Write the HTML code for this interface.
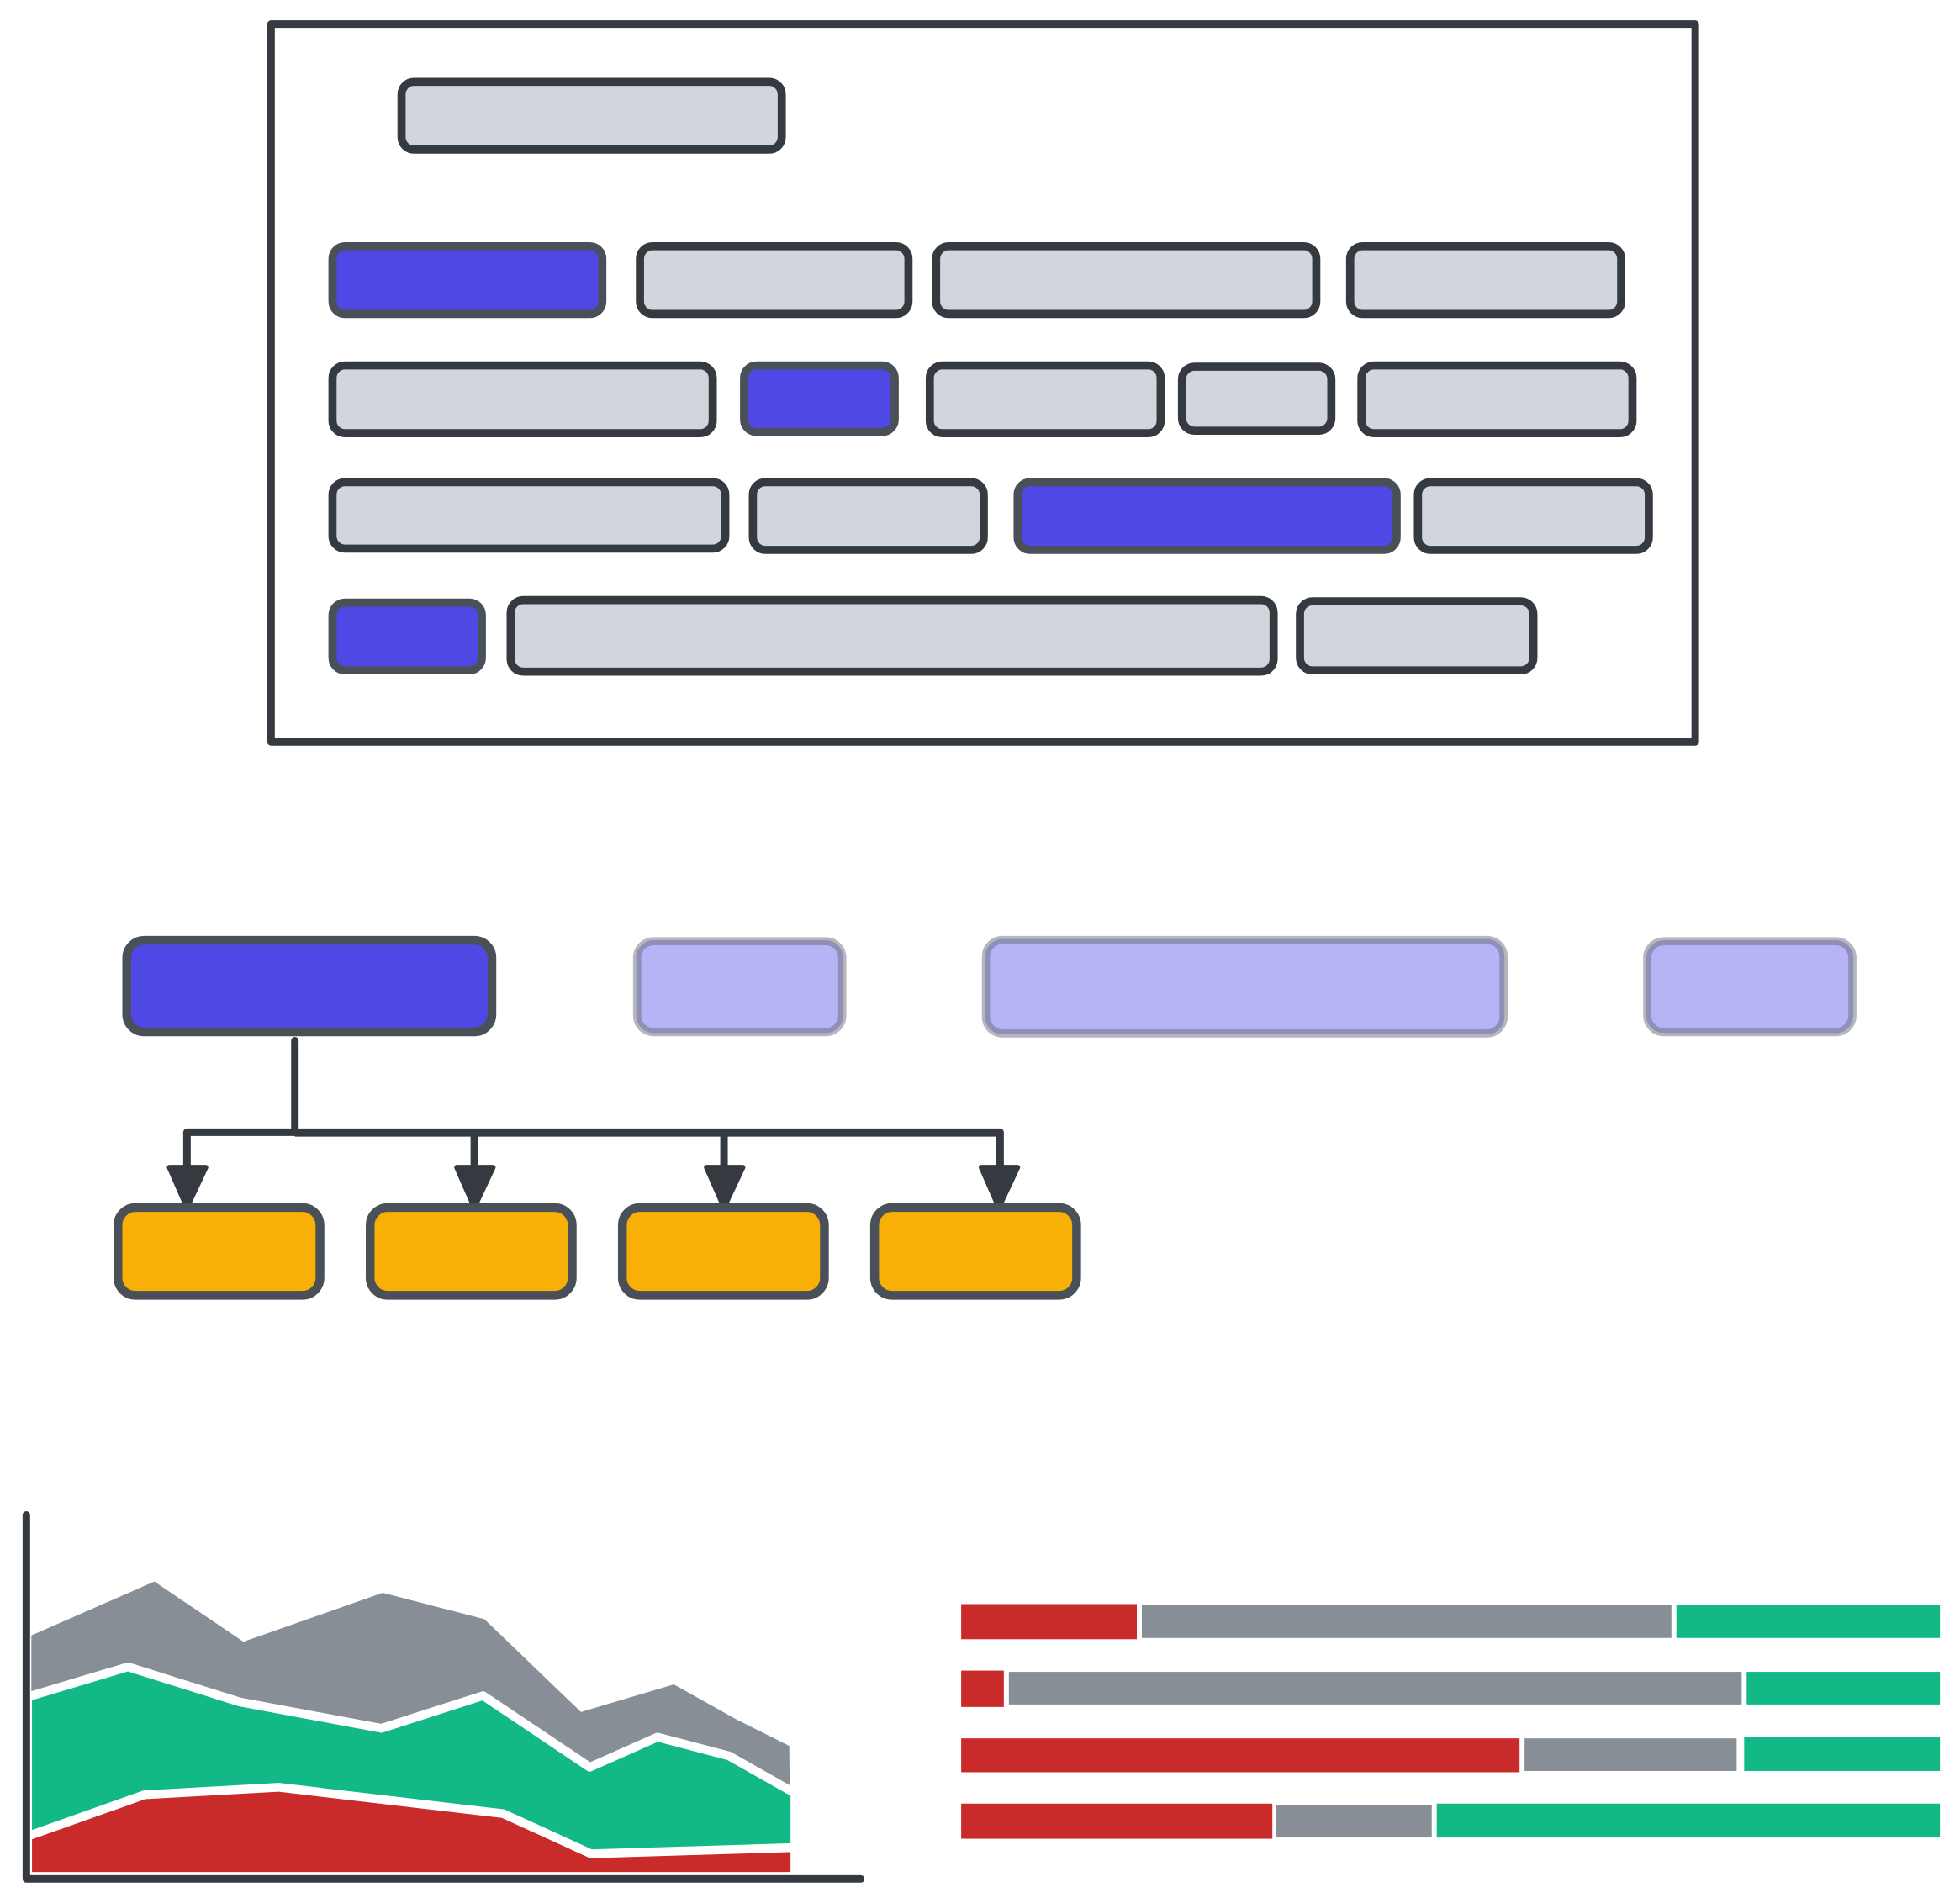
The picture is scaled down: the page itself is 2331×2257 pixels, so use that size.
<!DOCTYPE html>
<html><head><meta charset="utf-8"><style>html,body{margin:0;padding:0;background:#fff}svg{display:block}</style></head>
<body>
<svg width="2331" height="2257" viewBox="0 0 1562 1512" xmlns="http://www.w3.org/2000/svg">
<g fill="none" stroke="#343a40" stroke-width="6" stroke-linejoin="round">
<rect x="216" y="19" width="1135" height="572"/>
</g>
<g stroke="#343a40" stroke-width="6.5" fill="#d1d5dc">
<rect x="320" y="65" width="303" height="54" rx="10"/>
<rect x="510" y="196" width="214" height="54" rx="10"/>
<rect x="746" y="196" width="303" height="54" rx="10"/>
<rect x="1076" y="196" width="216" height="54" rx="10"/>
<rect x="265" y="291" width="303" height="54" rx="10"/>
<rect x="741" y="291" width="184" height="54" rx="10"/>
<rect x="942" y="292" width="119" height="51" rx="10"/>
<rect x="1085" y="291" width="216" height="54" rx="10"/>
<rect x="265" y="384" width="313" height="53" rx="10"/>
<rect x="600" y="384" width="184" height="54" rx="10"/>
<rect x="1130" y="384" width="184" height="54" rx="10"/>
<rect x="407" y="478" width="608" height="57" rx="10"/>
<rect x="1036" y="479" width="186" height="55" rx="10"/>
</g>
<g stroke="#4a5058" stroke-width="6.5" fill="#5048e5">
<rect x="265" y="196" width="215" height="54" rx="10"/>
<rect x="593" y="291" width="120" height="53" rx="10"/>
<rect x="811" y="384" width="302" height="54" rx="10"/>
<rect x="265" y="480" width="119" height="54" rx="10"/>
<rect x="101" y="749" width="291" height="73" rx="14" stroke-width="7"/>
</g>
<g fill="#b5b4f4" stroke="#8f8fb8" stroke-width="4">
<rect x="509" y="751" width="161" height="70" rx="12" stroke="#b4b8bc" stroke-width="9"/>
<rect x="509" y="751" width="161" height="70" rx="12"/>
<rect x="787" y="750" width="410" height="72" rx="12" stroke="#b4b8bc" stroke-width="9"/>
<rect x="787" y="750" width="410" height="72" rx="12"/>
<rect x="1314" y="751" width="161" height="70" rx="12" stroke="#b4b8bc" stroke-width="9"/>
<rect x="1314" y="751" width="161" height="70" rx="12"/>
</g>
<g fill="none" stroke="#343a40" stroke-width="6" stroke-linejoin="round" stroke-linecap="round">
<path d="M235 829 V902"/>
<path d="M149 928 V902 H797 V928"/>
<path d="M378 928 V904 M577 928 V904"/>
</g>
<path d="M235 902 H797" stroke="#343a40" stroke-width="3" transform="translate(0,2)"/>
<g fill="#343a40" stroke="#343a40" stroke-width="4" stroke-linejoin="round">
<path d="M135 930 H164 L149 962 Z"/>
<path d="M364 930 H393 L378 962 Z"/>
<path d="M563 930 H592 L577 962 Z"/>
<path d="M782 930 H811 L796 962 Z"/>
</g>
<g stroke="#4a5058" stroke-width="7" fill="#f9b006">
<rect x="94" y="962" width="161" height="70" rx="14"/>
<rect x="295" y="962" width="161" height="70" rx="14"/>
<rect x="496" y="962" width="161" height="70" rx="14"/>
<rect x="697" y="962" width="161" height="70" rx="14"/>
</g>
<polygon fill="#878e96" points="25,1303 123,1260 194,1308 305,1269 386,1290 463,1364 537,1342 587,1370 629,1391 630,1490 25,1490"/>
<polygon fill="#12b886" stroke="#fff" stroke-width="7" stroke-linejoin="round" points="22,1352 102,1328 191,1356 304,1377 385,1351 470,1408 524,1384 581,1399 634,1429 634,1495 22,1495"/>
<polygon fill="#c92a2a" stroke="#fff" stroke-width="7" stroke-linejoin="round" points="22,1463 115,1430 222,1424 401,1445 471,1477 634,1472 634,1495 22,1495"/>
<rect x="630" y="1380" width="20" height="115" fill="#fff"/>
<path d="M21 1207 V1497 H686" fill="none" stroke="#343a40" stroke-width="6" stroke-linecap="round" stroke-linejoin="round"/>
<g>
<rect x="766" y="1278" width="140" height="28" fill="#c92a2a"/>
<rect x="910" y="1279" width="422" height="26" fill="#878e96"/>
<rect x="1336" y="1279" width="210" height="26" fill="#12b886"/>
<rect x="766" y="1331" width="34" height="29" fill="#c92a2a"/>
<rect x="804" y="1332" width="584" height="26" fill="#878e96"/>
<rect x="1392" y="1332" width="154" height="26" fill="#12b886"/>
<rect x="766" y="1385" width="445" height="27" fill="#c92a2a"/>
<rect x="1215" y="1385" width="169" height="26" fill="#878e96"/>
<rect x="1390" y="1384" width="156" height="27" fill="#12b886"/>
<rect x="766" y="1437" width="248" height="28" fill="#c92a2a"/>
<rect x="1017" y="1438" width="124" height="26" fill="#878e96"/>
<rect x="1145" y="1437" width="401" height="27" fill="#12b886"/>
</g>
</svg>
</body></html>
